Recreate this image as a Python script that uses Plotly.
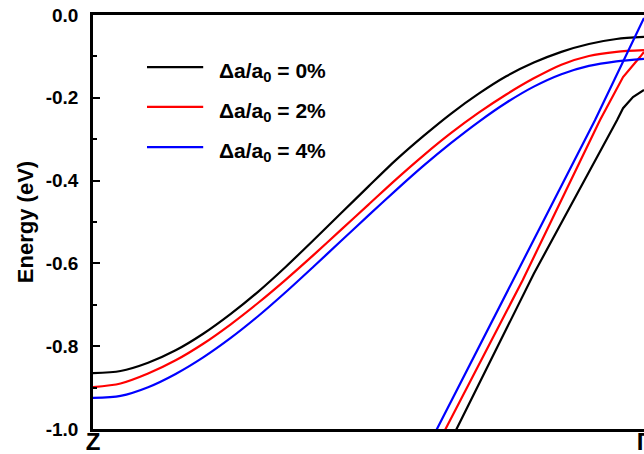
import plotly.graph_objects as go

# ---- data ----
k_flat = [0.00, 0.05, 0.10, 0.15, 0.20, 0.25, 0.30, 0.35, 0.40, 0.45, 0.50,
          0.55, 0.60, 0.65, 0.70, 0.75, 0.80, 0.85, 0.90, 0.95, 1.00]
e_flat_0 = [-0.865, -0.860, -0.840, -0.810, -0.770, -0.722, -0.668, -0.608, -0.544, -0.479, -0.414,
            -0.350, -0.292, -0.238, -0.190, -0.148, -0.115, -0.089, -0.070, -0.058, -0.053]
e_flat_2 = [-0.899, -0.890, -0.866, -0.834, -0.794, -0.747, -0.695, -0.639, -0.580, -0.519, -0.458,
            -0.397, -0.339, -0.285, -0.236, -0.192, -0.153, -0.120, -0.099, -0.089, -0.085]
e_flat_4 = [-0.925, -0.920, -0.899, -0.867, -0.827, -0.780, -0.727, -0.669, -0.608, -0.546, -0.484,
            -0.423, -0.364, -0.309, -0.258, -0.212, -0.173, -0.143, -0.123, -0.112, -0.106]

k_steep_0 = [0.640, 0.800, 0.951, 0.962, 0.980, 1.000]
e_steep_0 = [-1.053, -0.625, -0.254, -0.225, -0.198, -0.181]
k_steep_2 = [0.620, 0.780, 0.920, 0.962, 0.993, 1.000]
e_steep_2 = [-1.051, -0.640, -0.254, -0.150, -0.101, -0.089]
k_steep_4 = [0.610, 0.760, 0.911, 1.000]
e_steep_4 = [-1.037, -0.645, -0.254, -0.007]

series_names = ["Δa/a<sub>0</sub> = 0%", "Δa/a<sub>0</sub> = 2%", "Δa/a<sub>0</sub> = 4%"]
series_colors = ["#000000", "#ff0000", "#0000ff"]

y_tickvals = [0.0, -0.2, -0.4, -0.6, -0.8, -1.0]
y_ticktext = ["0.0", "-0.2", "-0.4", "-0.6", "-0.8", "-1.0"]
y_minor = [-0.1, -0.3, -0.5, -0.7, -0.9]
x_tickvals = [0.0, 1.0]
x_ticktext = ["Z", "Γ"]

FONT = "Liberation Sans, Arial, sans-serif"

fig = go.Figure()
flats = [e_flat_0, e_flat_2, e_flat_4]
steeps = [(k_steep_0, e_steep_0), (k_steep_2, e_steep_2), (k_steep_4, e_steep_4)]
for name, col, ef, (ks, es) in zip(series_names, series_colors, flats, steeps):
    fig.add_trace(go.Scatter(x=k_flat, y=ef, mode="lines", name=name,
                             line=dict(color=col, width=2.2, shape="spline", smoothing=0.8),
                             showlegend=False))
    fig.add_trace(go.Scatter(x=ks, y=es, mode="lines", name=name,
                             line=dict(color=col, width=2.2), showlegend=False))

# manual legend (line sample + text)
leg_y = [0.874, 0.778, 0.681]
for name, col, yy in zip(series_names, series_colors, leg_y):
    fig.add_shape(type="line", xref="paper", yref="paper",
                  x0=0.098, x1=0.200, y0=yy, y1=yy,
                  line=dict(color=col, width=2.2))
    fig.add_annotation(xref="paper", yref="paper", x=0.225, y=yy - 0.012,
                       xanchor="left", yanchor="middle", showarrow=False,
                       text="<b>" + name + "</b>",
                       font=dict(family=FONT, size=21, color="black"))

fig.update_layout(
    width=644, height=454,
    margin=dict(l=93, r=0, t=15, b=25),
    paper_bgcolor="white", plot_bgcolor="white",
    font=dict(family=FONT, color="black"),
)
fig.update_xaxes(range=[0, 1], tickvals=x_tickvals,
                 ticktext=["<b>" + t + "</b>" for t in x_ticktext],
                 ticks="", ticklen=0, showgrid=False, zeroline=False, automargin=False,
                 showline=True, linecolor="black", linewidth=2.5, mirror=True,
                 tickfont=dict(family=FONT, size=24, color="black"),
                 ticklabeloverflow="allow",
                 ticklabelstandoff=-11)
fig.update_yaxes(range=[-1.0, 0.0], tickvals=y_tickvals,
                 ticktext=["<b>" + t + "</b>" for t in y_ticktext],
                 ticks="inside", ticklen=7, tickwidth=2, tickcolor="black",
                 minor=dict(tickvals=y_minor, ticks="inside",
                            ticklen=4, tickwidth=2, tickcolor="black"),
                 showgrid=False, zeroline=False, automargin=False,
                 showline=True, linecolor="black", linewidth=2.5, mirror=False,
                 tickfont=dict(family=FONT, size=19, color="black"),
                 ticklabelstandoff=8,
                 title=dict(text="<b>Energy (eV)</b>", standoff=7,
                            font=dict(family=FONT, size=22, color="black")))

fig.write_html("out.html")
